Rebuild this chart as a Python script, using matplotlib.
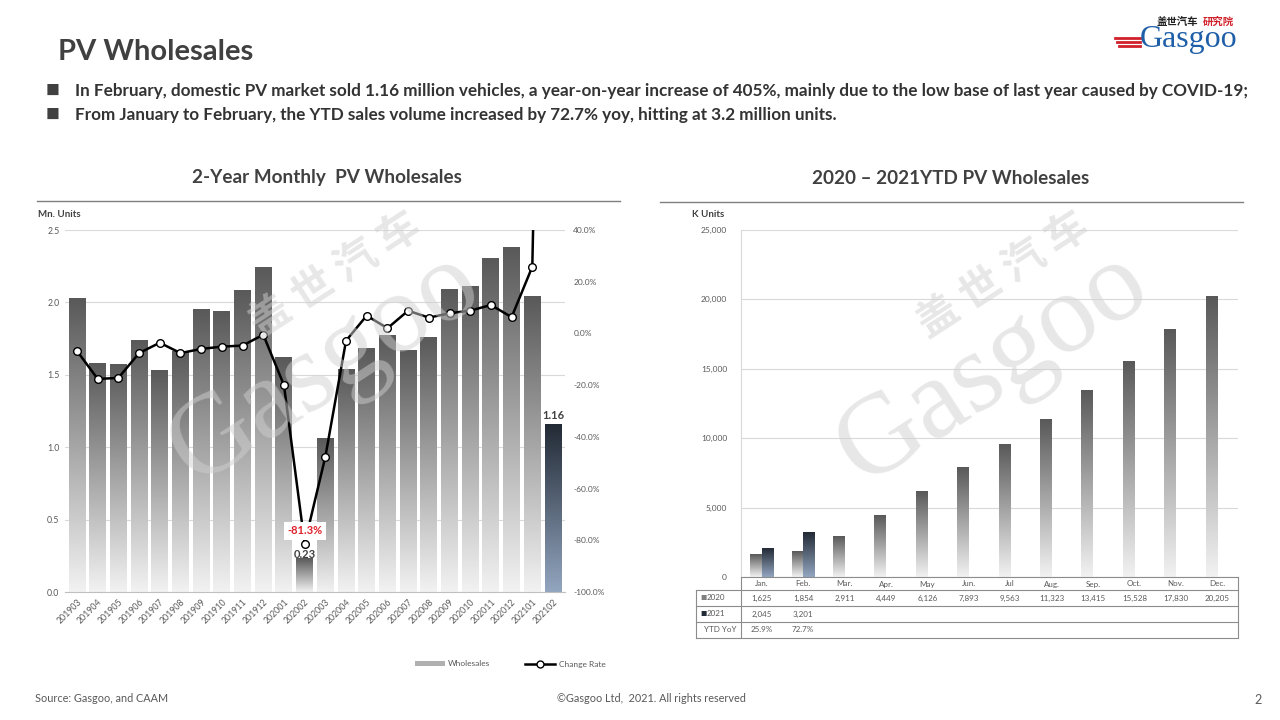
import numpy as np
import matplotlib
matplotlib.use("Agg")
import matplotlib.pyplot as plt
from matplotlib.colors import LinearSegmentedColormap
from matplotlib.lines import Line2D
from matplotlib.patches import Patch
from matplotlib.ticker import FuncFormatter
import matplotlib.transforms as mtransforms

plt.rcParams['font.family'] = ['Lato', 'Noto Sans CJK SC', 'DejaVu Sans']

# ---- data ----
months = ['201903', '201904', '201905', '201906', '201907', '201908', '201909', '201910',
          '201911', '201912', '202001', '202002', '202003', '202004', '202005', '202006',
          '202007', '202008', '202009', '202010', '202011', '202012', '202101', '202102']
wholesales = [2.03, 1.58, 1.57, 1.74, 1.53, 1.66, 1.95, 1.94, 2.08, 2.24, 1.62, 0.23,
              1.06, 1.54, 1.68, 1.77, 1.67, 1.76, 2.09, 2.11, 2.30, 2.38, 2.04, 1.16]
change_rate = [-6.8, -17.6, -17.2, -7.6, -3.6, -7.6, -6.0, -5.1, -4.7, -0.5, -20.0, -81.3,
               -47.7, -2.8, 6.9, 2.0, 8.8, 6.1, 7.8, 8.8, 11.0, 6.3, 25.8, 405.0]

ytd_months = ['Jan.', 'Feb.', 'Mar.', 'Apr.', 'May', 'Jun.', 'Jul', 'Aug.', 'Sep.', 'Oct.', 'Nov.', 'Dec.']
ytd_2020 = [1625, 1854, 2911, 4449, 6126, 7893, 9563, 11323, 13415, 15528, 17830, 20205]
ytd_2021 = [2045, 3201]
ytd_yoy = ['25.9%', '72.7%']

W, H = 1280, 720
gray_cmap = LinearSegmentedColormap.from_list('g', ['#f2f2f2', '#595959'])
navy_cmap = LinearSegmentedColormap.from_list('n', ['#93a6c0', '#222a35'])
grad = np.linspace(0, 1, 256).reshape(-1, 1)
txt = '#595959'


def px(x, y):
    return x / W, 1 - y / H


def gradient_bars(ax, x, h, width, cmap, align='center'):
    bars = ax.bar(x, h, width, color='none', align=align, zorder=2)
    for b in bars:
        x0, y0 = b.get_x(), b.get_y()
        ax.imshow(grad, extent=[x0, x0 + b.get_width(), y0, y0 + b.get_height()],
                  origin='lower', cmap=cmap, aspect='auto', zorder=2)
    return bars


fig = plt.figure(figsize=(12.8, 7.2), dpi=100)

# ---- header ----
fig.text(*px(58, 52), 'PV Wholesales', fontsize=21, weight='bold', color='#404040', va='center')
bullets = ['In February, domestic PV market sold 1.16 million vehicles, a year-on-year increase of 405%, mainly due to the low base of last year caused by COVID-19;',
           'From January to February, the YTD sales volume increased by 72.7% yoy, hitting at 3.2 million units.']
for i, b in enumerate(bullets):
    fig.text(*px(46, 91 + 24 * i), '■', fontsize=10, color='#404040', va='center')
    fig.text(*px(75, 91 + 24 * i), b, fontsize=12.3, weight='bold', color='#333333', va='center')

# logo
fig.text(*px(1157, 22), '盖世汽车', fontsize=7.5, weight='bold', color='#222222', va='center')
fig.text(*px(1203, 22), '研究院', fontsize=7.5, weight='bold', color='#d0202a', va='center')
fig.text(*px(1140, 40), 'Gasgoo', fontsize=23, family='Liberation Serif', color='#1f5fa8', va='center')
for k in range(3):
    fig.add_artist(Line2D([(1115 + 2 * k) / W, 1140 / W], [1 - (38 + 4 * k) / H] * 2,
                          color='#d0202a', lw=2))

# chart titles
fig.text(*px(327, 178), '2-Year Monthly  PV Wholesales', fontsize=13.6, weight='bold',
         color='#404040', ha='center', va='center')
fig.text(*px(951, 178), '2020 – 2021YTD PV Wholesales', fontsize=13.6, weight='bold',
         color='#404040', ha='center', va='center')
fig.add_artist(Line2D([37 / W, 620 / W], [1 - 201 / H] * 2, color='#7f7f7f', lw=1))
fig.add_artist(Line2D([660 / W, 1243 / W], [1 - 202 / H] * 2, color='#7f7f7f', lw=1))

# ---- left chart ----
ax = fig.add_axes([65 / W, 1 - 592 / H, 500 / W, 362 / H])
x = np.arange(len(months))
gradient_bars(ax, x[:-1], wholesales[:-1], 0.82, gray_cmap)
gradient_bars(ax, x[-1:], wholesales[-1:], 0.82, navy_cmap)
ax.set_xlim(-0.58, len(months) - 0.42)
ax.set_ylim(0, 2.5)
ax.set_yticks(np.arange(0, 2.51, 0.5))
ax.yaxis.set_major_formatter(FuncFormatter(lambda v, p: f'{v:.1f}'))
ax.set_xticks(x)
ax.set_xticklabels(months, rotation=45, ha='right', rotation_mode='anchor')
ax.tick_params(length=0, labelsize=6.3, labelcolor=txt, pad=4)
ax.grid(axis='y', color='#d9d9d9', lw=0.8, zorder=0)
ax.set_axisbelow(True)
for s in ['top', 'left', 'right']:
    ax.spines[s].set_visible(False)
ax.spines['bottom'].set_color('#bfbfbf')
ax.text(11, wholesales[11] - 0.01, f'{wholesales[11]:.2f}', ha='center', va='bottom',
        fontsize=8, weight='bold', color='#404040', zorder=5)
ax.text(23, wholesales[23] + 0.02, f'{wholesales[23]:.2f}', ha='center', va='bottom',
        fontsize=8, weight='bold', color='#404040', zorder=5)
fig.text(*px(38, 214), 'Mn. Units', fontsize=7, weight='bold', color='#404040', va='center')

ax2 = ax.twinx()
ax2.plot(x, change_rate, color='black', lw=1.8, marker='o', ms=5.5, mfc='white',
         mec='black', mew=1, zorder=3)
ax2.set_ylim(-100, 40)
ax2.set_yticks(np.arange(-100, 41, 20))
ax2.yaxis.set_major_formatter(FuncFormatter(lambda v, p: f'{v:.1f}%'))
ax2.tick_params(length=0, labelsize=6, labelcolor=txt, pad=6)
for s in ['top', 'left', 'right', 'bottom']:
    ax2.spines[s].set_visible(False)
ax2.text(11, -76.4, f'{change_rate[11]:.1f}%', ha='center', va='center', fontsize=8,
         weight='bold', color='#e0202a', zorder=6,
         bbox=dict(facecolor='white', edgecolor='none', pad=2.5))

# legend
handles = [Patch(facecolor='#b0b0b0', edgecolor='none'),
           Line2D([0], [0], color='black', lw=1.8, marker='o', ms=5, mfc='white', mec='black')]
fig.legend(handles, ['Wholesales', 'Change Rate'], loc='center', bbox_to_anchor=px(510, 664),
           ncol=2, frameon=False, fontsize=6, handlelength=3.6, handleheight=0.4,
           handletextpad=0.4, columnspacing=4.2, labelcolor=txt)

# ---- right chart ----
ax3 = fig.add_axes([741 / W, 1 - 577 / H, 497 / W, 347 / H])
xm = np.arange(len(ytd_months))
gradient_bars(ax3, xm - 0.28, ytd_2020, 0.28, gray_cmap, align='edge')
gradient_bars(ax3, xm[:len(ytd_2021)], ytd_2021, 0.28, navy_cmap, align='edge')
ax3.set_xlim(-0.5, len(ytd_months) - 0.5)
ax3.set_ylim(0, 25000)
ax3.set_yticks(np.arange(0, 25001, 5000))
ax3.yaxis.set_major_formatter(FuncFormatter(lambda v, p: f'{v:,.0f}'))
ax3.set_xticks([])
ax3.tick_params(length=0, labelsize=6, labelcolor=txt, pad=10)
ax3.grid(axis='y', color='#d9d9d9', lw=0.8, zorder=0)
ax3.set_axisbelow(True)
ax3.spines['top'].set_visible(False)
ax3.spines['right'].set_visible(False)
ax3.spines['left'].set_color('#d9d9d9')
ax3.spines['bottom'].set_color('#8c8c8c')
fig.text(*px(692, 214), 'K Units', fontsize=7, weight='bold', color='#404040', va='center')


# data table under right chart
def ay(py):
    return (577 - py) / 347


def axx(pxx):
    return (pxx - 741) / 497


tcol = '#8c8c8c'
for py in [590, 606, 622, 638]:
    ax3.add_artist(Line2D([axx(696), 1], [ay(py)] * 2, transform=ax3.transAxes,
                          color=tcol, lw=0.8, clip_on=False))
ax3.add_artist(Line2D([axx(696)] * 2, [ay(590), ay(638)], transform=ax3.transAxes,
                      color=tcol, lw=0.8, clip_on=False))
ax3.add_artist(Line2D([0, 0], [0, ay(638)], transform=ax3.transAxes,
                      color=tcol, lw=0.8, clip_on=False))
ax3.add_artist(Line2D([1, 1], [0, ay(638)], transform=ax3.transAxes,
                      color=tcol, lw=0.8, clip_on=False))

blend = mtransforms.blended_transform_factory(ax3.transData, ax3.transAxes)
for i, m in enumerate(ytd_months):
    ax3.text(i, ay(584), m, transform=blend, ha='center', va='center', fontsize=5.8, color=txt)
    ax3.text(i, ay(598), f'{ytd_2020[i]:,}', transform=blend, ha='center', va='center',
             fontsize=5.8, color=txt)
for i, v in enumerate(ytd_2021):
    ax3.text(i, ay(614), f'{v:,}', transform=blend, ha='center', va='center', fontsize=5.8, color=txt)
for i, v in enumerate(ytd_yoy):
    ax3.text(i, ay(630), v, transform=blend, ha='center', va='center', fontsize=5.8, color=txt)

ax3.text(axx(700), ay(598), '■', transform=ax3.transAxes, va='center', fontsize=4.5, color='#7f7f7f')
ax3.text(axx(707), ay(598), '2020', transform=ax3.transAxes, va='center', fontsize=5.8, color=txt)
ax3.text(axx(700), ay(614), '■', transform=ax3.transAxes, va='center', fontsize=4.5, color='#222a35')
ax3.text(axx(707), ay(614), '2021', transform=ax3.transAxes, va='center', fontsize=5.8, color=txt)
ax3.text(axx(737), ay(630), 'YTD YoY', transform=ax3.transAxes, ha='right', va='center',
         fontsize=5.8, color=txt)

# ---- watermarks ----
for dx in [0, 668]:
    fig.text(*px(325 + dx, 368), 'Gasgoo', fontsize=82, family='Liberation Serif',
             color='#d0d0d0', alpha=0.5, rotation=33, ha='center', va='center')
    fig.text(*px(335 + dx, 275), '盖 世 汽 车', fontsize=30, weight='bold',
             family=['Noto Sans CJK SC'], color='#d0d0d0', alpha=0.5, rotation=33,
             ha='center', va='center')

# ---- footer ----
fig.text(*px(35, 699), 'Source: Gasgoo, and CAAM', fontsize=7.8, color='#595959', va='center')
fig.text(*px(651, 699), '©Gasgoo Ltd,  2021. All rights reserved', fontsize=7.8,
         color='#595959', va='center', ha='center')
fig.text(*px(1254, 700), '2', fontsize=9, color='#595959', va='center')

fig.savefig('out.png', dpi=100)
